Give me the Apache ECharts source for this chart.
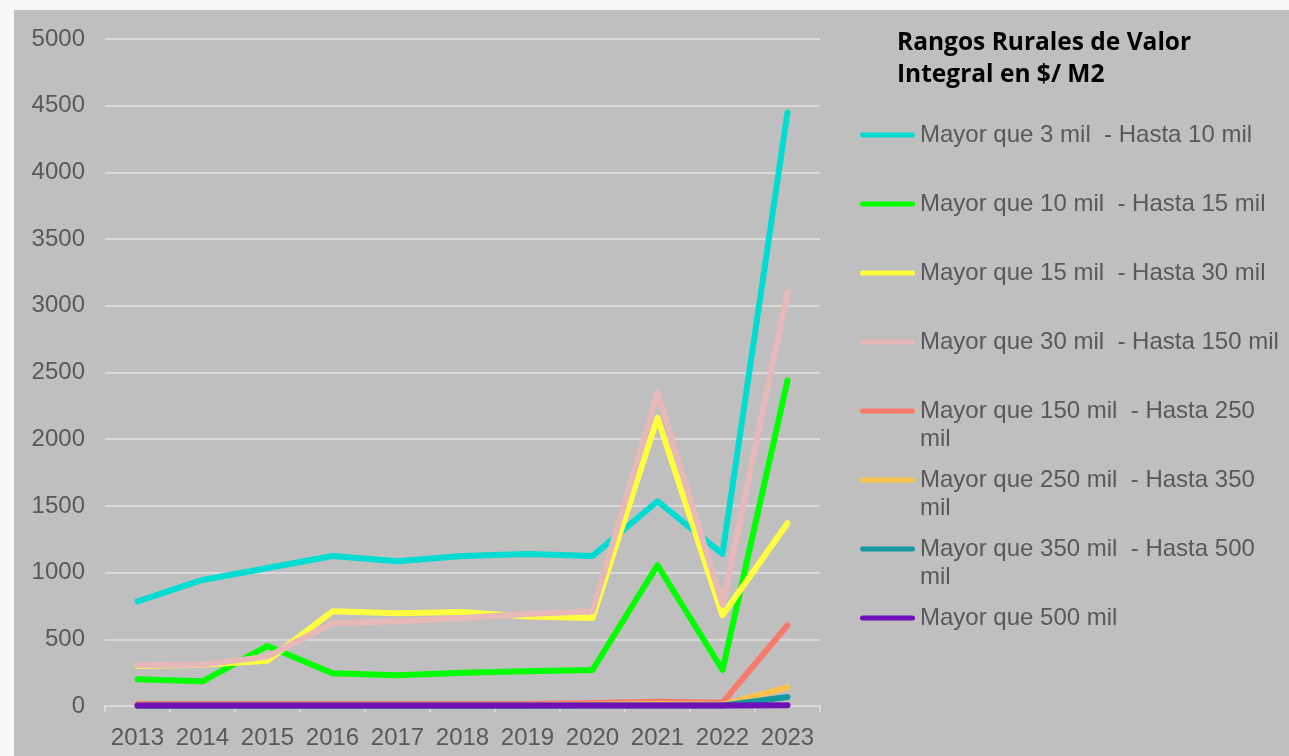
<!DOCTYPE html>
<html>
<head>
<meta charset="utf-8">
<script src="https://cdn.jsdelivr.net/npm/echarts@6/dist/echarts.min.js"></script>
<style>
html,body{margin:0;padding:0;background:#f8f8f8;width:1289px;height:756px;overflow:hidden;}
#chart{position:absolute;left:14px;top:10px;width:1275px;height:746px;background:#bfbfbf;}
</style>
</head>
<body>
<div id="chart"></div>
<script>
const years = ['2013','2014','2015','2016','2017','2018','2019','2020','2021','2022','2023'];
const yTicks = [0, 500, 1000, 1500, 2000, 2500, 3000, 3500, 4000, 4500, 5000];
const seriesNames = [
  'Mayor que 3 mil  - Hasta 10 mil',
  'Mayor que 10 mil  - Hasta 15 mil',
  'Mayor que 15 mil  - Hasta 30 mil',
  'Mayor que 30 mil  - Hasta 150 mil',
  'Mayor que 150 mil  - Hasta 250 mil',
  'Mayor que 250 mil  - Hasta 350 mil',
  'Mayor que 350 mil  - Hasta 500 mil',
  'Mayor que 500 mil'
];
const legendLabels = [
  'Mayor que 3 mil  - Hasta 10 mil\n ',
  'Mayor que 10 mil  - Hasta 15 mil\n ',
  'Mayor que 15 mil  - Hasta 30 mil\n ',
  'Mayor que 30 mil  - Hasta 150 mil\n ',
  'Mayor que 150 mil  - Hasta 250\nmil',
  'Mayor que 250 mil  - Hasta 350\nmil',
  'Mayor que 350 mil  - Hasta 500\nmil',
  'Mayor que 500 mil\n '
];
const s3a10 = [785, 945, 1035, 1125, 1085, 1125, 1140, 1125, 1535, 1140, 4450];
const s10a15 = [200, 185, 450, 245, 230, 250, 260, 270, 1055, 270, 2440];
const s15a30 = [300, 310, 340, 710, 695, 705, 670, 660, 2160, 680, 1370];
const s30a150 = [305, 310, 370, 620, 635, 660, 690, 710, 2350, 760, 3100];
const s150a250 = [15, 15, 15, 15, 15, 15, 15, 22, 32, 25, 605];
const s250a350 = [5, 5, 5, 5, 5, 5, 5, 10, 15, 10, 140];
const s350a500 = [2, 2, 2, 2, 2, 2, 2, 3, 4, 4, 68];
const s500 = [3, 3, 3, 3, 3, 3, 3, 3, 3, 3, 6];
const allData = [s3a10, s10a15, s15a30, s30a150, s150a250, s250a350, s350a500, s500];
const colors = ['#00dcd2', '#00ff00', '#ffff40', '#e6b9b8', '#f87a6a', '#ffc04c', '#17979f', '#7010b8'];

const chart = echarts.init(document.getElementById('chart'), null, {renderer: 'canvas'});
const labelMap = {};
seriesNames.forEach((n, i) => labelMap[n] = legendLabels[i]);
// bar at top of a 55x33 box so it aligns with the first text line
const iconPath = 'path://M2.5,0 L52.5,0 A2.5,2.5 0 0 1 52.5,5 L2.5,5 A2.5,2.5 0 0 1 2.5,0 Z M0,33 L0.01,33';

chart.setOption({
  animation: false,
  title: {
    text: 'Rangos Rurales de Valor\nIntegral en $/ M2',
    left: 883,
    top: 17,
    padding: 0,
    textStyle: {
      fontFamily: 'Open Sans',
      fontWeight: 'bold',
      fontSize: 24.5,
      lineHeight: 32,
      color: '#000000'
    }
  },
  legend: {
    orient: 'vertical',
    left: 846,
    top: 111,
    padding: 0,
    itemWidth: 55,
    itemHeight: 33,
    itemGap: 13,
    icon: iconPath,
    itemStyle: {borderWidth: 0},
    data: seriesNames,
    formatter: name => labelMap[name],
    textStyle: {
      fontFamily: 'Liberation Sans',
      fontSize: 24,
      lineHeight: 28,
      color: '#595959'
    }
  },
  grid: {left: 91, right: 469, top: 29, bottom: 50, containLabel: false},
  xAxis: {
    type: 'category',
    data: years,
    boundaryGap: true,
    axisLine: {lineStyle: {color: '#d9d9d9', width: 2}},
    axisTick: {show: true, length: 6, lineStyle: {color: '#d9d9d9', width: 2}},
    axisLabel: {
      interval: 0,
      margin: 20,
      fontFamily: 'Liberation Sans',
      fontSize: 24,
      color: '#595959'
    }
  },
  yAxis: {
    type: 'value',
    min: yTicks[0],
    max: yTicks[yTicks.length - 1],
    interval: yTicks[1] - yTicks[0],
    axisLine: {show: false},
    axisTick: {show: false},
    splitLine: {lineStyle: {color: '#d9d9d9', width: 2}},
    axisLabel: {
      margin: 20,
      fontFamily: 'Liberation Sans',
      fontSize: 24,
      color: '#595959',
      formatter: v => String(v)
    }
  },
  series: seriesNames.map((n, i) => ({
    name: n,
    type: 'line',
    data: allData[i],
    showSymbol: false,
    symbol: 'none',
    color: colors[i],
    itemStyle: {color: colors[i], borderWidth: 0},
    lineStyle: {color: colors[i], width: 6, cap: 'round', join: 'round'},
    emphasis: {disabled: true}
  }))
});
</script>
</body>
</html>
